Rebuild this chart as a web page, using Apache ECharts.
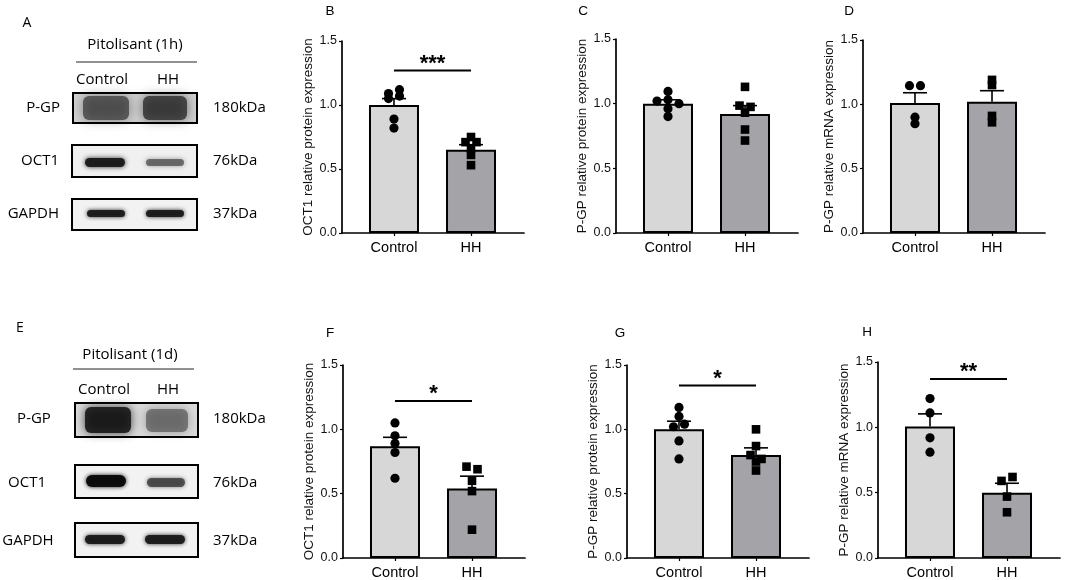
<!DOCTYPE html>
<html>
<head>
<meta charset="utf-8">
<script src="https://cdn.jsdelivr.net/npm/echarts@6/dist/echarts.min.js"></script>
<style>html,body{margin:0;padding:0;background:#fff;}#c{width:1065px;height:580px;}</style>
</head>
<body>
<div id="c"></div>
<script>
// ---------- data ----------
const groups = ['Control', 'HH'];
const yTickLabels = ['0.0', '0.5', '1.0', '1.5'];
const panelLetters = ['B', 'C', 'D', 'F', 'G', 'H'];
const yNames = [
  'OCT1 relative protein expression',
  'P-GP relative protein expression',
  'P-GP relative mRNA expression',
  'OCT1 relative protein expression',
  'P-GP relative protein expression',
  'P-GP relative mRNA expression'
];
const meansB = [1.00, 0.65], semsB = [0.05, 0.04];
const meansC = [1.00, 0.92], semsC = [0.03, 0.065];
const meansD = [1.01, 1.02], semsD = [0.08, 0.086];
const meansF = [0.868, 0.541], semsF = [0.07, 0.095];
const meansG = [1.00, 0.80], semsG = [0.063, 0.056];
const meansH = [1.006, 0.50], semsH = [0.097, 0.072];

const ptsB = [[1.09, 1.05, 1.12, 1.07, 0.89, 0.82], [0.75, 0.71, 0.71, 0.66, 0.61, 0.53]];
const ptsC = [[1.02, 1.03, 1.00, 1.095, 0.96, 0.90], [1.13, 0.985, 0.975, 0.93, 0.80, 0.715]];
const ptsD = [[1.145, 1.145, 0.90, 0.85], [1.19, 1.15, 0.91, 0.86]];
const ptsF = [[1.05, 0.95, 0.89, 0.82, 0.62], [0.71, 0.69, 0.60, 0.52, 0.22]];
const ptsG = [[1.17, 1.10, 1.02, 1.04, 0.91, 0.77], [1.00, 0.87, 0.80, 0.77, 0.75, 0.68]];
const ptsH = [[1.22, 1.11, 0.92, 0.81], [0.59, 0.62, 0.47, 0.35]];

const sigLabels = ['***', '', '', '*', '*', '**'];
const sigHeights = [1.27, null, null, 1.22, 1.34, 1.37];

const blotRows = ['P-GP', 'OCT1', 'GAPDH'];
const blotSizes = ['180kDa', '76kDa', '37kDa'];
const blotTitles = ['Pitolisant (1h)', 'Pitolisant (1d)'];
const blotLetters = ['A', 'E'];

const means = [meansB, meansC, meansD, meansF, meansG, meansH];
const sems = [semsB, semsC, semsD, semsF, semsG, semsH];
const pts = [ptsB, ptsC, ptsD, ptsF, ptsG, ptsH];

// ---------- layout ----------
const FONT = "'Liberation Sans', Arial, sans-serif";
const BFONT = "'Open Sans', 'Noto Sans', sans-serif";
const gridPos = [
  {left: 342, top: 41, height: 192},
  {left: 616, top: 39, height: 194},
  {left: 863, top: 40, height: 193},
  {left: 343, top: 365, height: 194},
  {left: 627, top: 365, height: 194},
  {left: 878, top: 362, height: 196}
];
const nameGaps = [24, 27, 24, 24, 27, 23];
const letterPos = [[330, 11], [583, 11], [849, 11], [330, 333], [620, 333], [867, 332]];
const barColors = ['#d7d7d7', '#a3a3a8'];

const grids = [], xAxes = [], yAxes = [], series = [];
gridPos.forEach((g, p) => {
  grids.push({left: g.left, top: g.top, width: 182, height: g.height, containLabel: false});
  xAxes.push({
    type: 'value', gridIndex: p, min: -0.675, max: 1.688,
    axisLine: {show: true, onZero: false, lineStyle: {color: '#000', width: 1.7}},
    axisTick: {show: true, customValues: [0, 1], length: 3, lineStyle: {color: '#000', width: 1.2}},
    axisLabel: {show: true, customValues: [0, 1], formatter: v => groups[Math.round(v)], margin: 7,
      fontSize: 14.5, color: '#000', fontFamily: FONT},
    splitLine: {show: false}
  });
  yAxes.push({
    type: 'value', gridIndex: p, min: 0, max: 1.5, interval: 0.5,
    name: yNames[p], nameLocation: 'middle', nameGap: nameGaps[p],
    nameTextStyle: {fontSize: 13.5, color: '#111', fontFamily: FONT},
    axisLine: {show: true, onZero: false, lineStyle: {color: '#000', width: 1.7}},
    axisTick: {show: true, length: 3, lineStyle: {color: '#000', width: 1.2}},
    axisLabel: {formatter: v => yTickLabels[Math.round(v / 0.5)], fontSize: 12.5, color: '#111', margin: 5, fontFamily: FONT},
    splitLine: {show: false}
  });
  // bars
  series.push({
    type: 'bar', xAxisIndex: p, yAxisIndex: p, barWidth: 50, z: 2, silent: true, animation: false,
    data: groups.map((name, gi) => ({value: [gi, means[p][gi]], itemStyle: {color: barColors[gi]}})),
    itemStyle: {borderColor: '#000', borderWidth: 2}
  });
  // error bars (mean + SEM, upper only)
  series.push({
    type: 'custom', xAxisIndex: p, yAxisIndex: p, z: 3, silent: true, animation: false,
    data: groups.map((name, gi) => [gi, means[p][gi], sems[p][gi]]),
    renderItem: function (params, api) {
      const gi = api.value(0), m = api.value(1), s = api.value(2);
      const b = api.coord([gi, m]), t = api.coord([gi, m + s]);
      return {type: 'group', children: [
        {type: 'line', shape: {x1: b[0], y1: b[1], x2: t[0], y2: t[1]}, style: {stroke: '#000', lineWidth: 1.6}},
        {type: 'line', shape: {x1: t[0] - 12, y1: t[1], x2: t[0] + 12, y2: t[1]}, style: {stroke: '#000', lineWidth: 1.6}}
      ]};
    }
  });
  // individual points (rows of near-equal values spread sideways)
  const pdata = [];
  pts[p].forEach((arr, gi) => arr.forEach((v, k) => pdata.push([gi, v, k])));
  series.push({
    type: 'custom', xAxisIndex: p, yAxisIndex: p, z: 4, silent: true, animation: false,
    data: pdata,
    renderItem: function (params, api) {
      const gi = api.value(0), v = api.value(1), i = api.value(2);
      const vals = pts[p][gi];
      const ys = vals.map(val => api.coord([gi, val])[1]);
      const order = ys.map((y, k) => k).sort((a, b) => ys[a] - ys[b]);
      const rows = []; let cur = null;
      order.forEach(k => {
        if (cur && ys[k] - ys[cur[0]] < 4.5) cur.push(k); else { cur = [k]; rows.push(cur); }
      });
      let off = 0;
      rows.forEach(r => {
        const idx = r.slice().sort((a, b) => a - b);
        const pos = idx.indexOf(i);
        if (pos >= 0) off = (pos - (idx.length - 1) / 2) * 11;
      });
      const c = api.coord([gi, v]);
      const cx = c[0] + off, cy = c[1];
      if (gi === 0) return {type: 'circle', shape: {cx: cx, cy: cy, r: 4.6}, style: {fill: '#000'}};
      return {type: 'rect', shape: {x: cx - 4.3, y: cy - 4.3, width: 8.6, height: 8.6}, style: {fill: '#000'}};
    }
  });
  // significance bracket
  if (sigLabels[p]) {
    series.push({
      type: 'custom', xAxisIndex: p, yAxisIndex: p, z: 5, silent: true, animation: false,
      data: [[0, 1, sigHeights[p]]],
      renderItem: function (params, api) {
        const a = api.coord([api.value(0), api.value(2)]);
        const b = api.coord([api.value(1), api.value(2)]);
        return {type: 'group', children: [
          {type: 'line', shape: {x1: a[0], y1: a[1], x2: b[0], y2: b[1]}, style: {stroke: '#000', lineWidth: 2}},
          {type: 'text', x: (a[0] + b[0]) / 2, y: a[1] + 4, style: {text: sigLabels[p], fontSize: 22, fontWeight: 'bold',
            fontFamily: FONT, fill: '#000', align: 'center', verticalAlign: 'bottom'}}
        ]};
      }
    });
  }
});

// ---------- graphic: letters and blots ----------
const graphic = [];
panelLetters.forEach((L, p) => graphic.push({type: 'text', x: letterPos[p][0], y: letterPos[p][1],
  style: {text: L, fontSize: 13.5, fontFamily: FONT, fill: '#000', align: 'center', verticalAlign: 'middle'}}));

function txt(t, x, y, align, size) {
  return {type: 'text', x: x, y: y, style: {text: t, fontSize: size || 15, fontFamily: BFONT, fill: '#000',
    align: align || 'center', verticalAlign: 'middle'}};
}
function box(x, y, w, h, bg) {
  return [{type: 'rect', shape: {x: x, y: y, width: w, height: h}, style: {fill: bg || '#f4f4f4'}, z: 1},
          {type: 'rect', shape: {x: x, y: y, width: w, height: h}, style: {fill: 'none', stroke: '#000', lineWidth: 2}, z: 20}];
}
function band(x, y, w, h, c, blur) {
  return {type: 'rect', shape: {x: x, y: y, width: w, height: h, r: Math.min(h / 2, 6)},
    style: {fill: c, shadowBlur: blur, shadowColor: c}, z: 5};
}

// Panel A
graphic.push(txt(blotLetters[0], 27, 23, 'center', 14));
graphic.push(txt(blotTitles[0], 135, 45));
graphic.push({type: 'line', shape: {x1: 76, y1: 62, x2: 197, y2: 62}, style: {stroke: '#222', lineWidth: 1.2}});
graphic.push(txt(groups[0], 102, 80), txt(groups[1], 168, 80));
const rowYA = [108, 161, 214];
graphic.push(txt(blotRows[0], 60, rowYA[0], 'right'), txt(blotRows[1], 59, rowYA[1], 'right'), txt(blotRows[2], 59, rowYA[2], 'right'));
blotSizes.forEach((s, i) => graphic.push(txt(s, 213, rowYA[i], 'left')));
graphic.push(...box(73, 93, 124, 30, '#d0d0d0'));
graphic.push(band(83, 96, 46, 24, 'rgba(60,60,60,0.75)', 11), band(143, 96, 44, 24, 'rgba(45,45,45,0.8)', 11));
graphic.push(...box(72, 145, 125, 32, '#f0f0f0'));
graphic.push(band(85, 158, 40, 9, 'rgba(25,25,25,0.95)', 5), band(146, 159, 38, 7, 'rgba(70,70,70,0.7)', 5));
graphic.push(...box(72, 199, 125, 31, '#f2f2f2'));
graphic.push(band(87, 210, 38, 7, 'rgba(25,25,25,0.95)', 4), band(146, 210, 38, 7, 'rgba(25,25,25,0.95)', 4));

// Panel E
graphic.push(txt(blotLetters[1], 20, 328, 'center', 14));
graphic.push(txt(blotTitles[1], 130, 355));
graphic.push({type: 'line', shape: {x1: 73, y1: 369, x2: 194, y2: 369}, style: {stroke: '#222', lineWidth: 1.2}});
graphic.push(txt(groups[0], 104, 390), txt(groups[1], 168, 390));
const rowYE = [419, 483, 541];
graphic.push(txt(blotRows[0], 34, rowYE[0]), txt(blotRows[1], 27, rowYE[1]), txt(blotRows[2], 28, rowYE[2]));
blotSizes.forEach((s, i) => graphic.push(txt(s, 213, rowYE[i], 'left')));
graphic.push(...box(75, 403, 123, 34, '#dadada'));
graphic.push(band(85, 407, 46, 26, 'rgba(20,20,20,0.88)', 10), band(146, 409, 42, 23, 'rgba(85,85,85,0.7)', 10));
graphic.push(...box(75, 465, 123, 33, '#f2f2f2'));
graphic.push(band(86, 475, 40, 12, 'rgba(10,10,10,0.97)', 4), band(147, 478, 38, 9, 'rgba(55,55,55,0.8)', 4));
graphic.push(...box(75, 523, 123, 34, '#f2f2f2'));
graphic.push(band(85, 535, 40, 9, 'rgba(25,25,25,0.95)', 4), band(145, 535, 40, 9, 'rgba(25,25,25,0.95)', 4));

const chart = echarts.init(document.getElementById('c'));
chart.setOption({
  animation: false,
  backgroundColor: '#fff',
  textStyle: {fontFamily: FONT},
  grid: grids, xAxis: xAxes, yAxis: yAxes, series: series, graphic: graphic
});
</script>
</body>
</html>
